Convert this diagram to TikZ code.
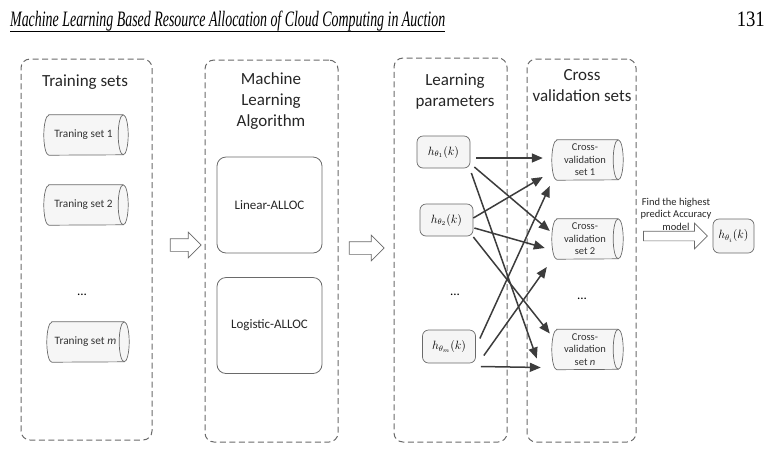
\documentclass[tikz,border=0pt]{standalone}
\usepackage{fontspec}
\setmainfont{Carlito}
\newfontfamily\hdrfont{Liberation Serif}
\usetikzlibrary{shapes.arrows,arrows.meta,calc,backgrounds}
\definecolor{linegray}{HTML}{3C3C3C}
\definecolor{boxgray}{HTML}{6A6A6A}
\tikzset{
  dashbox/.style={draw=boxgray, dash pattern=on 6pt off 3.5pt, rounded corners=9pt, line width=1pt, inner sep=0pt},
  ttl/.style={font=\fontsize{17}{21}\selectfont, align=center, text=black!85},
  cylbody/.style={minimum height=40pt, inner sep=0pt, align=center, text=black!80},
  cylline/.style={draw=boxgray, fill=gray!7, line width=0.7pt},
  hbox/.style={draw=boxgray, fill=gray!8, rounded corners=6pt, minimum width=53pt, minimum height=32pt, inner sep=0pt, line width=0.7pt, font=\fontsize{11.5}{13}\selectfont},
  algbox/.style={draw=boxgray, rounded corners=9pt, minimum width=105pt, minimum height=96pt, line width=0.8pt, font=\fontsize{13}{15}\selectfont, text=black!85},
  harrow/.style={single arrow, draw=boxgray, fill=white, line width=0.7pt, inner sep=6pt, single arrow head extend=6.5pt},
  conn/.style={draw=linegray, line width=1.5pt, -{Triangle[length=11pt,width=9pt]}},
}
% outline of a horizontal cylinder round the node #1 (right end ellipse centred on its east side)
\newcommand{\cylout}[1]{%
  \begin{pgfonlayer}{background}
  \filldraw[cylline] ($(#1.north west)+(5,0)$) -- (#1.north east)
    arc[start angle=90, end angle=-90, x radius=5pt, y radius=20pt]
    -- ($(#1.south west)+(5,0)$)
    arc[start angle=270, end angle=90, x radius=5pt, y radius=20pt] -- cycle;
  \draw[cylline, fill=none] (#1.north east)
    arc[start angle=90, end angle=270, x radius=5pt, y radius=20pt];
  \end{pgfonlayer}
}
\begin{document}
\begin{tikzpicture}[x=1pt,y=-1pt]
\useasboundingbox (0,0) rectangle (773,451);
% header
\node[anchor=base west, inner sep=0pt, font=\hdrfont\itshape\fontsize{22}{24}\selectfont] (hdr) at (10,26) {\resizebox{435pt}{\height}{Machine Learning Based Resource Allocation of Cloud Computing in Auction}};
\draw[line width=0.8pt] (hdr.south west) ++(0,1) coordinate (ul1) -- (ul1 -| hdr.south east);
\node[anchor=base east, inner sep=0pt, font=\hdrfont\fontsize{22}{24}\selectfont] (pg) at (765,26) {\resizebox{28pt}{\height}{131}};

% containers
\node[dashbox, minimum width=131pt, minimum height=381pt] (b1) at (86.5,249.5) {};
\node[dashbox, minimum width=133pt, minimum height=382pt] (b2) at (271.5,251) {};
\node[dashbox, minimum width=113pt, minimum height=384pt] (b3) at (450.5,250) {};
\node[dashbox, minimum width=109pt, minimum height=383pt] (b4) at (581.5,250.5) {};

% titles
\node[ttl] (t1) at (85,82) {Training sets};
\node[ttl] (t2) at (271,101) {Machine\\Learning\\Algorithm};
\node[ttl] (t3) at (455,92) {Learning\\parameters};
\node[ttl] (t4) at (582,86) {Cross\\validation sets};

% training sets
\node[cylbody, minimum width=79pt, font=\fontsize{11.3}{13}\selectfont] (ts1) at (83.5,135) {Traning set 1};
\node[cylbody, minimum width=79pt, font=\fontsize{11.3}{13}\selectfont] (ts2) at (83.5,205) {Traning set 2};
\node[cylbody, minimum width=77pt, font=\fontsize{11.3}{13}\selectfont] (tsm) at (85.5,342) {Traning set \textit{m}};
\cylout{ts1}\cylout{ts2}\cylout{tsm}
\node[font=\fontsize{13}{14}\selectfont] (tsd) at (82,295) {...};

% algorithms
\node[algbox] (lin) at (269.5,205) {Linear-ALLOC};
\node[algbox] (log) at (269.5,325.5) {Logistic-ALLOC};

% hollow arrows
\node[harrow, minimum width=25pt, minimum height=31pt] (a1) at (182.5,245) {};
\node[harrow, minimum width=25pt, minimum height=35pt] (a2) at (363.5,248) {};

% parameters
\node[hbox] (h1) at (443.5,152) {$h_{\theta_1}(k)$};
\node[hbox] (h2) at (446.5,220) {$h_{\theta_2}(k)$};
\node[font=\fontsize{13}{14}\selectfont] (hd) at (455,295) {...};
\node[hbox, minimum height=33pt] (hm) at (449,346.5) {$h_{\theta_m}(k)$};

% cross validation sets
\node[cylbody, minimum width=66pt, font=\fontsize{10.5}{12.5}\selectfont] (cv1) at (585,160) {Cross-\\validation\\set 1};
\node[cylbody, minimum width=66pt, font=\fontsize{10.5}{12.5}\selectfont] (cv2) at (585,239) {Cross-\\validation\\set 2};
\node[cylbody, minimum width=66pt, font=\fontsize{10.5}{12.5}\selectfont] (cvn) at (585,349.5) {Cross-\\validation\\set \textit{n}};
\cylout{cv1}\cylout{cv2}\cylout{cvn}
\node[font=\fontsize{13}{14}\selectfont] (cvd) at (582,299) {...};

% connectors
\draw[conn] ($(h1.east)+(6,6)$) -- ($(cv1.west)+(-9,-2)$);
\draw[conn] ($(h2.east)+(0,-2)$) -- ($(cv1.west)+(-9,17)$);
\draw[conn] ($(hm.east)+(4,-8)$) -- ($(cv1.west)+(-2,26)$);
\draw[conn] ($(h1.east)+(4,15)$) -- ($(cv2.west)+(-2,-8)$);
\draw[conn] ($(h2.east)+(1,8)$) -- ($(cv2.west)+(-7,9)$);
\draw[conn] ($(hm.east)+(8,9)$) -- ($(cv2.west)+(-5,28)$);
\draw[conn] ($(h2.east)+(0,17)$) -- ($(cvn.west)+(-2,-16)$);
\draw[conn] ($(h1.east)+(1,21)$) -- ($(cvn.west)+(-15,9)$);
\draw[conn] ($(hm.east)+(5,20)$) -- ($(cvn.west)+(-11,18)$);

% final
\node[harrow, inner sep=4.5pt, minimum width=25pt, minimum height=64pt, single arrow head extend=8pt] (a3) at (673,236) {};
\node[font=\fontsize{10.5}{12.5}\selectfont, align=center, text=black!85] (ftxt) at (676,214) {Find the highest\\predict Accuracy\\model};
\node[hbox, minimum width=41pt, minimum height=34pt] (hi) at (733.5,236) {$h_{\theta_i}(k)$};
\end{tikzpicture}
\end{document}
